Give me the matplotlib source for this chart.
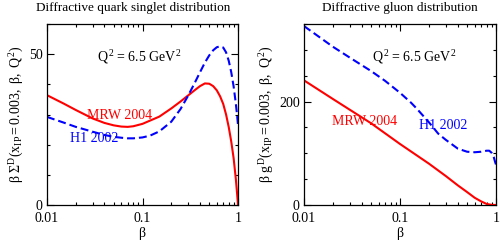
import matplotlib
matplotlib.use("Agg")
import matplotlib.pyplot as plt
import numpy as np
from matplotlib.ticker import FixedLocator, NullFormatter, FixedFormatter

plt.rcParams['font.family'] = ['Liberation Serif', 'DejaVu Serif']
plt.rcParams['mathtext.fontset'] = 'custom'
plt.rcParams['mathtext.rm'] = 'Liberation Serif'
plt.rcParams['mathtext.it'] = 'Liberation Serif'
plt.rcParams['mathtext.bf'] = 'Liberation Serif'

# ---- data: quark singlet ----
beta_q_mrw = [0.01, 0.015, 0.02, 0.03, 0.04, 0.05, 0.06, 0.07, 0.08, 0.1, 0.15, 0.2,
              0.25, 0.3, 0.35, 0.4, 0.45, 0.5, 0.55, 0.6, 0.65, 0.7, 0.75, 0.8,
              0.85, 0.9, 0.95, 0.98, 1.0]
q_mrw = [36.4, 33.6, 31.5, 28.7, 27.2, 26.4, 26.0, 25.9, 26.1, 26.9, 29.3, 32.0,
         34.3, 36.3, 38.0, 39.4, 40.3, 40.2, 39.4, 38.0, 36.0, 33.5, 30.0, 25.8,
         21.0, 15.5, 8.5, 3.5, 0.0]

beta_q_h1 = [0.01, 0.015, 0.02, 0.03, 0.04, 0.05, 0.06, 0.07, 0.08, 0.1, 0.12, 0.15,
             0.2, 0.25, 0.3, 0.35, 0.4, 0.45, 0.5, 0.55, 0.6, 0.65, 0.7, 0.75,
             0.8, 0.85, 0.9, 0.95, 0.98, 1.0]
q_h1 = [29.2, 27.3, 25.9, 24.3, 23.2, 22.6, 22.3, 22.1, 22.1, 22.4, 23.0, 24.4,
        27.6, 31.8, 36.2, 40.3, 44.0, 47.2, 49.6, 51.3, 52.3, 52.6, 52.2, 50.6,
        47.8, 44.0, 39.3, 33.5, 29.5, 26.5]

# ---- data: gluon ----
beta_g_mrw = [0.01, 0.02, 0.05, 0.1, 0.2, 0.3, 0.4, 0.5, 0.6, 0.7, 0.8, 0.9, 1.0]
g_mrw = [241, 205, 158, 118, 80, 56, 38, 25, 14, 7, 2, 0.3, 0.0]

beta_g_h1 = [0.01, 0.02, 0.03, 0.05, 0.07, 0.1, 0.13, 0.15, 0.2, 0.25, 0.3, 0.4,
             0.5, 0.6, 0.7, 0.8, 0.85, 0.9, 0.95, 0.98, 1.0]
g_h1 = [346, 306, 285, 259, 240, 217, 198, 186, 160, 138, 126, 109,
        103, 102, 103, 105, 105, 101, 92, 83, 78]

xticks = [0.01, 0.1, 1]
xticklabels = ["0.01", "0.1", "1"]

RED = '#ff0000'
BLUE = '#0000ff'
DASH = (0, (3.8, 1.9))

fig = plt.figure(figsize=(5.0, 2.42), dpi=100)
axL = fig.add_axes([47/500, 37/242, 191/500, 181/242])
axR = fig.add_axes([304/500, 37/242, 192/500, 181/242])

def style(ax, ymax, major, minor):
    ax.set_xscale('log')
    ax.set_xlim(0.01, 1)
    ax.set_ylim(0, ymax)
    ax.xaxis.set_major_locator(FixedLocator(xticks))
    ax.xaxis.set_major_formatter(FixedFormatter(xticklabels))
    minors = [m * d for d in (0.01, 0.1) for m in range(2, 10)]
    ax.xaxis.set_minor_locator(FixedLocator(minors))
    ax.xaxis.set_minor_formatter(NullFormatter())
    ax.yaxis.set_major_locator(FixedLocator(list(np.arange(0, ymax + 1, major))))
    ax.yaxis.set_minor_locator(FixedLocator(list(np.arange(0, ymax + 1, minor))))
    ax.tick_params(which='both', direction='in', top=True, right=True,
                   labelsize=10, width=0.8)
    ax.tick_params(which='major', length=5, pad=3)
    ax.tick_params(axis='x', which='major', pad=5)
    ax.tick_params(which='minor', length=2.5)
    for s in ax.spines.values():
        s.set_linewidth(0.9)
    ax.set_xlabel(r'$\beta$', fontsize=10, labelpad=0)

style(axL, 60, 50, 10)
style(axR, 350, 200, 50)

axL.plot(beta_q_mrw, q_mrw, color=RED, lw=1.5)
axL.plot(beta_q_h1, q_h1, color=BLUE, lw=1.5, linestyle=DASH)
axR.plot(beta_g_mrw, g_mrw, color=RED, lw=1.5)
axR.plot(beta_g_h1, g_h1, color=BLUE, lw=1.5, linestyle=DASH)

axL.set_ylabel(r'$\beta\ \Sigma^{D}(x_{IP} = 0.003,\ \beta,\ Q^{2})$', fontsize=10, labelpad=2)
axR.set_ylabel(r'$\beta\ g^{D}(x_{IP} = 0.003,\ \beta,\ Q^{2})$', fontsize=10, labelpad=2)

# annotations
axL.text(0.033, 49.2, r'$Q^2$ = 6.5 GeV$^2$', fontsize=10, ha='left', va='center')
axL.text(0.026, 29.8, 'MRW 2004', color=RED, fontsize=10, ha='left', va='center')
axL.text(0.0174, 21.9, 'H1 2002', color=BLUE, fontsize=10, ha='left', va='center')

axR.text(0.0512, 287, r'$Q^2$ = 6.5 GeV$^2$', fontsize=10, ha='left', va='center')
axR.text(0.0194, 162, 'MRW 2004', color=RED, fontsize=10, ha='left', va='center')
axR.text(0.157, 154, 'H1 2002', color=BLUE, fontsize=10, ha='left', va='center')

fig.text(133/500, 1 - 8/242, 'Diffractive quark singlet distribution', fontsize=9.5,
         ha='center', va='center')
fig.text(400/500, 1 - 8/242, 'Diffractive gluon distribution', fontsize=9.5,
         ha='center', va='center')

fig.savefig('out.png', dpi=100)
